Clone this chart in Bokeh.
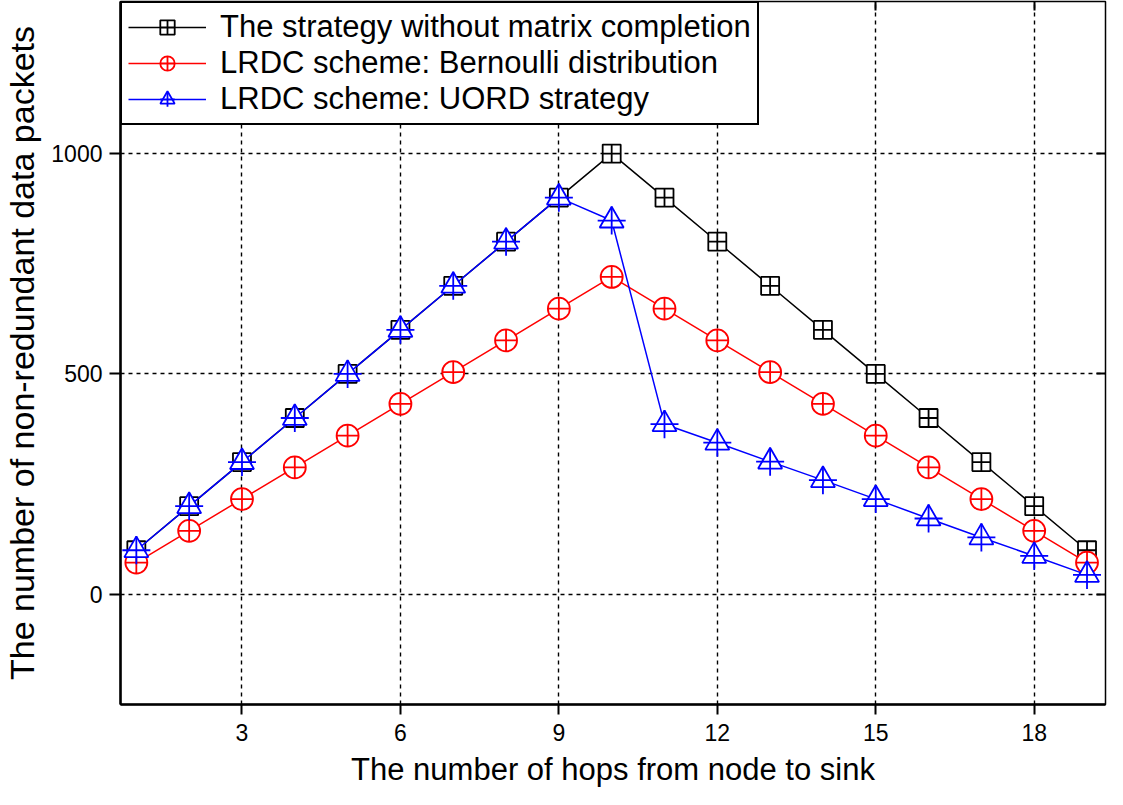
from bokeh.plotting import figure
from bokeh.models import (LinearAxis, FixedTicker, Range1d, Legend, LegendItem,
                          ColumnDataSource, CustomJSTickFormatter)
from bokeh.embed import file_html
from bokeh.resources import INLINE

hops = list(range(1, 20))
no_mc = [100, 200, 300, 400, 500, 600, 700, 800, 900, 1000, 900, 800, 700, 600, 500, 400, 300, 200, 100]
bernoulli = [72, 144, 216, 288, 360, 432, 504, 576, 648, 720, 648, 576, 504, 432, 360, 288, 216, 144, 72]
uord = [100, 200, 300, 400, 500, 600, 700, 800, 900, 848, 386, 344, 301, 259, 216, 172, 129, 87, 44]
x_ticks = [3, 6, 9, 12, 15, 18]
y_ticks = [0, 500, 1000]
series_names = ["The strategy without matrix completion",
                "LRDC scheme: Bernoulli distribution",
                "LRDC scheme: UORD strategy"]

FONT = "Liberation Sans"

src = ColumnDataSource(dict(x=hops, a=no_mc, b=bernoulli, c=uord))

p = figure(width=1107, height=789, output_backend="svg", toolbar_location=None,
           x_range=Range1d(0.7, 19.35), y_range=Range1d(-250, 1345),
           min_border_left=114, min_border_right=2, min_border_top=1, min_border_bottom=10)
p.outline_line_color = "black"
p.outline_line_width = 1.5
p.background_fill_color = "white"
p.border_fill_color = "white"

# axes
p.xaxis.ticker = FixedTicker(ticks=x_ticks)
p.yaxis.ticker = FixedTicker(ticks=y_ticks)
for ax in p.xaxis + p.yaxis:
    ax.axis_line_width = 2.5
    ax.axis_line_color = "black"
    ax.major_tick_line_width = 2
    ax.major_tick_in = 0
    ax.major_tick_out = 11
    ax.minor_tick_line_color = None
    ax.major_label_text_font = FONT
    ax.major_label_text_font_size = "23px"
    ax.major_label_text_color = "black"
    ax.axis_label_text_font = FONT
    ax.axis_label_text_font_style = "normal"
    ax.axis_label_text_color = "black"
p.xaxis.axis_label = "The number of hops from node to sink"
p.xaxis.axis_label_text_font_size = "31px"
p.xaxis.major_tick_out = 10
p.xaxis.major_label_standoff = 9
p.xaxis.axis_label_standoff = 8
p.yaxis.axis_label = "The number of non-redundant data packets"
p.yaxis.axis_label_text_font_size = "34px"
p.yaxis.major_label_standoff = 7
p.yaxis.axis_label_standoff = 7

blank = CustomJSTickFormatter(code="return ''")
top = LinearAxis(ticker=FixedTicker(ticks=x_ticks), major_tick_in=9, major_tick_out=0,
                 formatter=blank, major_label_standoff=0,
                 axis_line_color=None, minor_tick_line_color=None, major_tick_line_width=2)
right = LinearAxis(ticker=FixedTicker(ticks=y_ticks), major_tick_in=9, major_tick_out=0,
                   formatter=blank, major_label_standoff=0,
                   axis_line_color=None, minor_tick_line_color=None, major_tick_line_width=2)
p.add_layout(top, "above")
p.add_layout(right, "right")

# grid
p.xgrid.ticker = FixedTicker(ticks=x_ticks)
p.ygrid.ticker = FixedTicker(ticks=y_ticks)
for g in (p.xgrid, p.ygrid):
    g.grid_line_color = "black"
    g.grid_line_width = 1.4
    g.grid_line_dash = "4 4"

# series
l1 = p.line("x", "a", source=src, line_color="black", line_width=1.5)
m1 = p.scatter("x", "a", source=src, marker="square_cross", size=18, line_color="black",
               fill_color="white", line_width=1.8)
l2 = p.line("x", "b", source=src, line_color="red", line_width=1.5)
m2 = p.scatter("x", "b", source=src, marker="circle_cross", size=22, line_color="red",
               fill_color="white", line_width=1.8)
l3 = p.line("x", "c", source=src, line_color="blue", line_width=1.5)
m3 = p.scatter("x", "c", source=src, marker="triangle", size=24, line_color="blue",
               fill_color="white", line_width=1.8)
m3b = p.scatter("x", "c", source=src, marker="cross", size=28, line_color="blue",
                line_width=1.8)

legend = Legend(items=[LegendItem(label=series_names[0], renderers=[l1, m1]),
                       LegendItem(label=series_names[1], renderers=[l2, m2]),
                       LegendItem(label=series_names[2], renderers=[l3, m3, m3b])],
                location="top_left", orientation="vertical",
                label_text_font=FONT, label_text_font_size="31px", label_text_color="black",
                glyph_width=78, glyph_height=36, label_standoff=14, spacing=0,
                padding=6, margin=0,
                border_line_color="black", border_line_width=2, border_line_alpha=1.0,
                background_fill_color="white", background_fill_alpha=1.0)
p.add_layout(legend, "center")

open("out.html", "w").write(file_html(p, INLINE))
